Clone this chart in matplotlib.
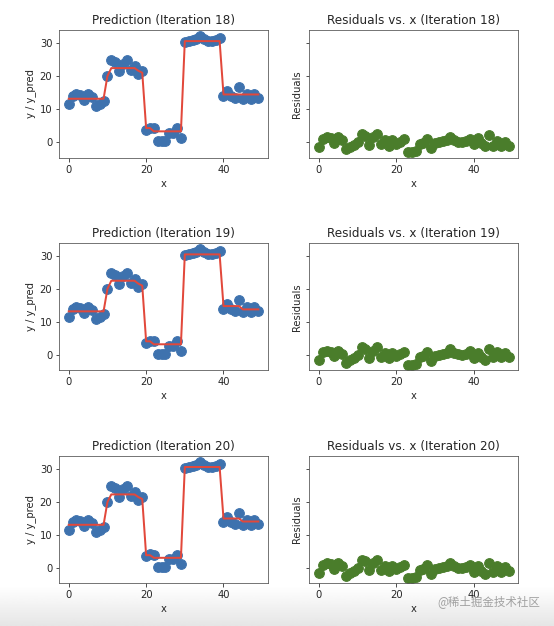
import numpy as np
import matplotlib
matplotlib.use('Agg')
import matplotlib.pyplot as plt

# 数据
x = list(range(50))
y = [11.5, 14.0, 14.5, 14.2, 12.7, 14.5, 13.6, 10.8, 11.6, 12.3,
     20.0, 24.8, 24.3, 21.6, 23.8, 24.8, 21.8, 23.0, 20.5, 21.5,
     3.7, 4.2, 4.1, 0.2, 0.2, 0.3, 2.6, 2.8, 4.1, 1.3,
     30.2, 30.5, 30.9, 31.1, 32.2, 31.2, 30.6, 30.5, 30.8, 31.6,
     13.9, 15.5, 14.0, 13.3, 16.6, 13.0, 14.6, 13.0, 14.5, 13.2]

iterations = [18, 19, 20]

y_pred_18 = ([13.1] * 10 + [20.0] + [22.4] * 7 + [21.6, 21.0]
             + [4.2, 4.2] + [3.2] * 8 + [30.6] * 10 + [14.4] * 10)
y_pred_19 = ([13.2] * 10 + [20.0] + [22.5] * 7 + [21.6, 21.0]
             + [4.1, 4.1] + [3.2] * 8 + [30.5] * 10 + [14.8] * 5 + [13.8] * 5)
y_pred_20 = ([13.1] * 10 + [20.0] + [22.3] * 7 + [21.5, 20.9]
             + [3.9, 3.9] + [3.1] * 8 + [30.6] * 10 + [15.0] * 5 + [14.1] * 5)
preds = [y_pred_18, y_pred_19, y_pred_20]

blue = '#3e72ae'
green = '#4a7d2b'
red = '#e2483b'

plt.rcParams['font.family'] = ['DejaVu Sans', 'Noto Sans CJK SC']
plt.rcParams['text.color'] = '#262626'
plt.rcParams['axes.labelcolor'] = '#262626'
plt.rcParams['xtick.color'] = '#262626'
plt.rcParams['ytick.color'] = '#262626'

fig, axes = plt.subplots(3, 2, figsize=(554 / 72, 626 / 72), dpi=72, sharey='row')
fig.subplots_adjust(left=0.107, right=0.935, top=0.952, bottom=0.068,
                    wspace=0.2, hspace=0.67)

for row, (it, y_pred) in enumerate(zip(iterations, preds)):
    ax1, ax2 = axes[row]
    ax1.scatter(x, y, s=95, color=blue, zorder=2)
    ax1.plot(x, y_pred, color=red, linewidth=2, zorder=3)
    ax1.set_title(f'Prediction (Iteration {it})', fontsize=12)
    ax1.set_xlabel('x', fontsize=10)
    ax1.set_ylabel('y / y_pred', fontsize=10)

    residuals = np.array(y) - np.array(y_pred)
    ax2.scatter(x, residuals, s=95, color=green, zorder=2)
    ax2.set_title(f'Residuals vs. x (Iteration {it})', fontsize=12)
    ax2.set_xlabel('x', fontsize=10)
    ax2.set_ylabel('Residuals', fontsize=10)

    for ax in (ax1, ax2):
        ax.set_xticks([0, 20, 40])
        ax.set_yticks([0, 10, 20, 30])
        ax.tick_params(labelsize=10)
        for sp in ax.spines.values():
            sp.set_color('#555555')

# 底部灰色渐变
bg = fig.add_axes([0, 0, 1, 40 / 626], zorder=-1)
grad = np.linspace(1.0, 0.9, 64).reshape(-1, 1)
bg.imshow(grad, aspect='auto', cmap='gray', vmin=0, vmax=1, extent=[0, 1, 0, 1])
bg.axis('off')

fig.text(0.975, 0.039, '@稀土掘金技术社区', ha='right', va='center',
         fontsize=11.5, color='#a0a0a0', family=['Noto Sans CJK SC', 'DejaVu Sans'])

fig.savefig('out.png', dpi=72)
